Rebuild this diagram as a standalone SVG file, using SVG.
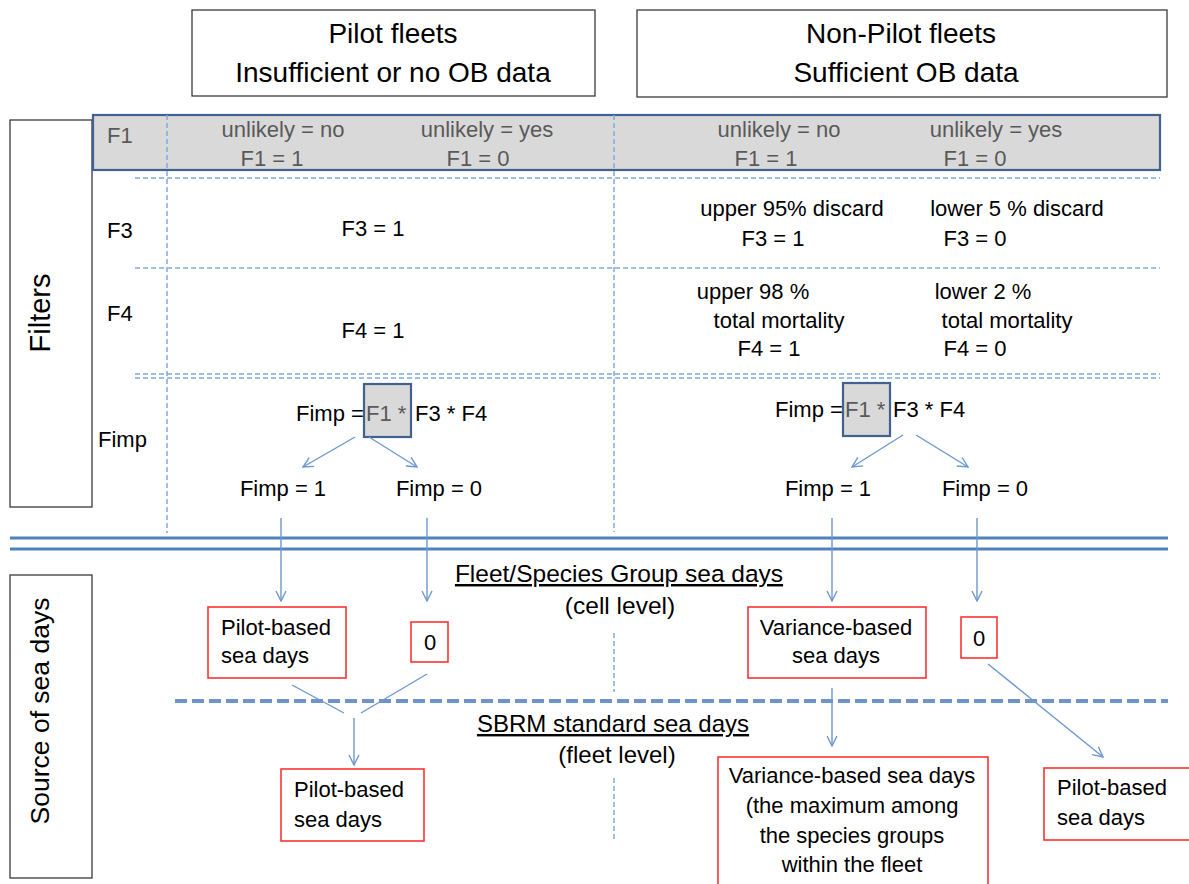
<svg xmlns="http://www.w3.org/2000/svg" width="1189" height="884" viewBox="0 0 1189 884">
<defs>
<style>
.t{font-family:"Liberation Sans",Arial,sans-serif;font-size:22px;fill:#000}
.g{fill:#595959}
.hd{font-size:28px}
.m{text-anchor:middle}
.box{fill:#fff;stroke:#3a3a3a;stroke-width:1.3}
.red{fill:#fff;stroke:#ff3333;stroke-width:1.6}
.band{fill:#d9d9d9;stroke:#41618f;stroke-width:2.2}
.dash{stroke:#82a9dc;stroke-width:1.5;stroke-dasharray:5 3;fill:none}
.ln{stroke:#6d98cf;stroke-width:1.4;fill:none}
.arr{stroke:#6d98cf;stroke-width:1.4;fill:none;marker-end:url(#ah)}
.dbl{stroke:#4f81bd;stroke-width:3.2;fill:none}
.sb{stroke:#6f94cc;stroke-width:4;stroke-dasharray:12 5;fill:none}
</style>
<marker id="ah" viewBox="0 0 12 12" refX="11" refY="6" markerWidth="12" markerHeight="12" markerUnits="userSpaceOnUse" orient="auto">
<path d="M1,1 L11,6 L1,11" fill="none" stroke="#6d98cf" stroke-width="1.4"/>
</marker>
</defs>
<rect width="1189" height="884" fill="#fff"/>

<g id="hdr-pilot">
<rect class="box" x="192" y="10" width="403" height="86"/>
<text class="t hd m" x="393" y="43">Pilot fleets</text>
<text class="t hd m" x="393" y="82">Insufficient or no OB data</text>
</g>
<g id="hdr-nonpilot">
<rect class="box" x="637" y="10" width="530" height="87"/>
<text class="t hd m" x="901" y="43">Non-Pilot fleets</text>
<text class="t hd m" x="906" y="82">Sufficient OB data</text>
</g>

<g id="filters-label">
<rect class="box" x="10" y="120" width="82" height="387"/>
<text class="t m" style="font-size:29px" transform="translate(50,313) rotate(-90)">Filters</text>
</g>
<g id="source-label">
<rect class="box" x="10" y="575" width="82" height="303"/>
<text class="t m" style="font-size:26.5px" transform="translate(49,711) rotate(-90)">Source of sea days</text>
</g>

<g id="row-f1">
<rect class="band" x="93" y="115" width="1067" height="55"/>
<text class="t g" x="107" y="143">F1</text>
<text class="t g m" x="283" y="137">unlikely = no</text>
<text class="t g m" x="272" y="166">F1 = 1</text>
<text class="t g m" x="487" y="137">unlikely = yes</text>
<text class="t g m" x="478" y="166">F1 = 0</text>
<text class="t g m" x="779" y="137">unlikely = no</text>
<text class="t g m" x="766" y="166">F1 = 1</text>
<text class="t g m" x="996" y="137">unlikely = yes</text>
<text class="t g m" x="975" y="166">F1 = 0</text>
</g>

<g id="grid">
<line class="dash" x1="135" y1="178" x2="1160" y2="178"/>
<line class="dash" x1="135" y1="268" x2="1160" y2="268"/>
<line class="dash" x1="135" y1="374" x2="1160" y2="374"/>
<line class="dash" x1="135" y1="378" x2="1160" y2="378"/>
<line class="dash" x1="167" y1="115" x2="167" y2="533"/>
<line class="dash" x1="614" y1="115" x2="614" y2="532"/>
<line class="dash" x1="614" y1="633" x2="614" y2="692"/>
<line class="dash" x1="614" y1="778" x2="614" y2="840"/>
</g>

<g id="row-f3">
<text class="t" x="107" y="238">F3</text>
<text class="t m" x="373" y="236">F3 = 1</text>
<text class="t m" x="792" y="216">upper 95% discard</text>
<text class="t m" x="773" y="246">F3 = 1</text>
<text class="t m" x="1017" y="216">lower 5 % discard</text>
<text class="t m" x="975" y="246">F3 = 0</text>
</g>

<g id="row-f4">
<text class="t" x="107" y="321">F4</text>
<text class="t m" x="373" y="338">F4 = 1</text>
<text class="t m" x="753" y="299">upper 98 %</text>
<text class="t m" x="779" y="328">total mortality</text>
<text class="t m" x="769" y="356">F4 = 1</text>
<text class="t m" x="983" y="299">lower 2 %</text>
<text class="t m" x="1007" y="328">total mortality</text>
<text class="t m" x="975" y="356">F4 = 0</text>
</g>

<g id="row-fimp">
<text class="t" x="98" y="447">Fimp</text>
<rect class="band" x="364" y="384" width="47" height="53"/>
<text class="t" x="296" y="421">Fimp =</text>
<text class="t g" x="366" y="421">F1 *</text>
<text class="t" x="415" y="421">F3 * F4</text>
<rect class="band" x="843" y="383" width="47" height="53"/>
<text class="t" x="775" y="417">Fimp =</text>
<text class="t g" x="845" y="417">F1 *</text>
<text class="t" x="893" y="417">F3 * F4</text>
<text class="t m" x="283" y="496">Fimp = 1</text>
<text class="t m" x="439" y="496">Fimp = 0</text>
<text class="t m" x="828" y="496">Fimp = 1</text>
<text class="t m" x="985" y="496">Fimp = 0</text>
</g>

<g id="separators">
<line class="dbl" x1="10" y1="538" x2="1168" y2="538"/>
<line class="dbl" x1="10" y1="549" x2="1168" y2="549"/>
<line class="sb" x1="175" y1="701" x2="1168" y2="701"/>
<text class="t m" style="font-size:24.5px" x="619" y="582" text-decoration="underline">Fleet/Species Group sea days</text>
<text class="t m" style="font-size:24.5px" x="620" y="614">(cell level)</text>
<text class="t m" style="font-size:24px" x="613" y="732" text-decoration="underline">SBRM standard sea days</text>
<text class="t m" style="font-size:24px" x="617" y="763">(fleet level)</text>
</g>

<g id="pilot-cell">
<rect class="red" x="208" y="607" width="138" height="71"/>
<text class="t" x="221" y="635">Pilot-based</text>
<text class="t" x="221" y="663">sea days</text>
</g>
<g id="zero-left">
<rect class="red" x="411" y="622" width="37" height="40"/>
<text class="t m" x="430" y="650">0</text>
</g>
<g id="pilot-fleet-left">
<rect class="red" x="281" y="769" width="143" height="72"/>
<text class="t" x="294" y="797">Pilot-based</text>
<text class="t" x="294" y="827">sea days</text>
</g>
<g id="variance-cell">
<rect class="red" x="748" y="607" width="178" height="71"/>
<text class="t m" x="836" y="635">Variance-based</text>
<text class="t m" x="836" y="663">sea days</text>
</g>
<g id="zero-right">
<rect class="red" x="961" y="617" width="36" height="41"/>
<text class="t m" x="979" y="646">0</text>
</g>
<g id="variance-fleet">
<rect class="red" x="718" y="757" width="270" height="135"/>
<text class="t m" x="852" y="783">Variance-based sea days</text>
<text class="t m" x="852" y="813">(the maximum among</text>
<text class="t m" x="852" y="843">the species groups</text>
<text class="t m" x="852" y="872">within the fleet</text>
</g>
<g id="pilot-fleet-right">
<rect class="red" x="1044" y="768" width="152" height="72"/>
<text class="t" x="1057" y="795">Pilot-based</text>
<text class="t" x="1057" y="825">sea days</text>
</g>

<g id="connectors">
<line class="arr" x1="355" y1="437" x2="303" y2="467"/>
<line class="arr" x1="369" y1="437" x2="417" y2="467"/>
<line class="arr" x1="903" y1="435" x2="852" y2="467"/>
<line class="arr" x1="916" y1="435" x2="968" y2="467"/>
<line class="arr" x1="281" y1="518" x2="281" y2="601"/>
<line class="arr" x1="427" y1="518" x2="427" y2="601"/>
<line class="arr" x1="832" y1="518" x2="832" y2="601"/>
<line class="arr" x1="977" y1="518" x2="977" y2="601"/>
<line class="ln" x1="292" y1="685" x2="344" y2="713"/>
<line class="ln" x1="427" y1="674" x2="361" y2="713"/>
<line class="arr" x1="354" y1="718" x2="354" y2="765"/>
<line class="arr" x1="832" y1="688" x2="832" y2="746"/>
<line class="arr" x1="988" y1="664" x2="1103" y2="757"/>
</g>
</svg>
